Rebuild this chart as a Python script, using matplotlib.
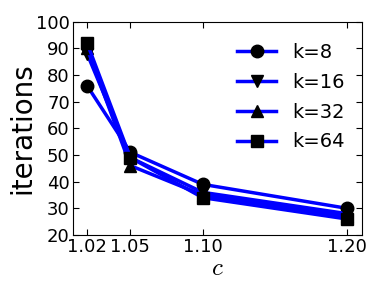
import matplotlib
matplotlib.use("Agg")
import matplotlib.pyplot as plt

plt.rcParams["mathtext.fontset"] = "cm"

c = [1.02, 1.05, 1.10, 1.20]
k8 = [76, 51, 39, 30]
k16 = [88, 49, 36, 28]
k32 = [90, 46, 35, 27]
k64 = [92, 49, 34, 26]

fig = plt.figure(figsize=(3.82, 2.87), dpi=100)
ax = fig.add_axes([0.19, 0.181, 0.757, 0.744])

series = [(k8, "o", "k=8"), (k16, "v", "k=16"), (k32, "^", "k=32"), (k64, "s", "k=64")]
for ys, mk, lab in series:
    ax.plot(c, ys, color="blue", lw=2.5, marker=mk, ms=9,
            mfc="black", mec="black", label=lab)

ax.set_xlim(1.01, 1.21)
ax.set_ylim(20, 100)
ax.set_xticks(c)
ax.set_xticklabels(["1.02", "1.05", "1.10", "1.20"])
ax.set_yticks(range(20, 101, 10))
ax.tick_params(labelsize=13, direction="in", length=4, right=True, top=True, pad=2)
ax.set_ylabel("iterations", fontsize=20, labelpad=0)
ax.set_xlabel("$c$", fontsize=18, labelpad=0)
ax.legend(frameon=False, fontsize=14, loc="upper right", handlelength=2.0,
          bbox_to_anchor=(1.0, 0.98), labelspacing=0.55)

fig.savefig("out.png", dpi=100)
